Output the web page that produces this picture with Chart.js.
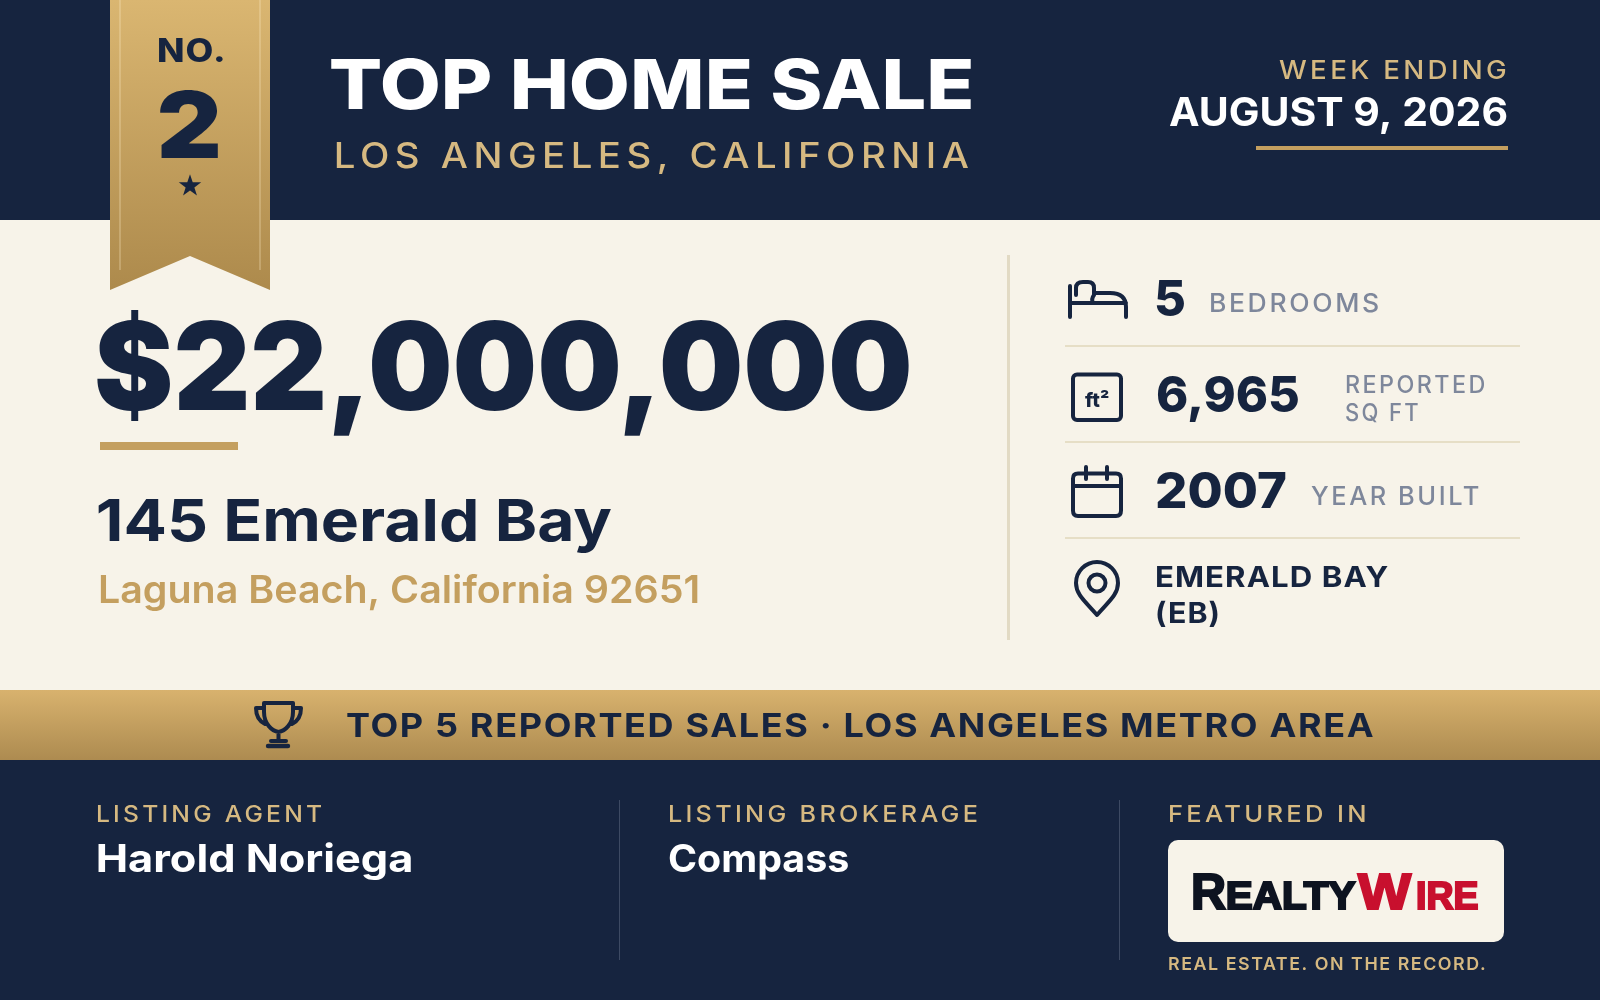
<!DOCTYPE html>
<html>
<head>
<meta charset="utf-8">
<title>Top Home Sale</title>
<script src="https://cdn.jsdelivr.net/npm/chart.js@4/dist/chart.umd.min.js"></script>
<style>
  html, body { margin: 0; padding: 0; background: #16243f; }
  canvas { display: block; }
</style>
</head>
<body>
<canvas id="card" width="1600" height="1000"></canvas>
<script>
// card content
const rankText = ['NO.', '2'];
const titleText = ['TOP HOME SALE', 'LOS ANGELES, CALIFORNIA'];
const weekText = ['WEEK ENDING', 'AUGUST 9, 2026'];
const priceText = '$22,000,000';
const addressText = ['145 Emerald Bay', 'Laguna Beach, California 92651'];
const statValues = ['5', '6,965', '2007'];
const statLabels = ['BEDROOMS', 'REPORTED', 'SQ FT', 'YEAR BUILT'];
const areaLines = ['EMERALD BAY', '(EB)'];
const bandText = 'TOP 5 REPORTED SALES \u00b7 LOS ANGELES METRO AREA';
const footerLabels = ['LISTING AGENT', 'LISTING BROKERAGE', 'FEATURED IN'];
const footerValues = ['Harold Noriega', 'Compass'];
const logoText = ['R', 'EALTY', 'W', 'IRE'];
const logoTagline = 'REAL ESTATE. ON THE RECORD.';

const NAVY = '#16243f';
const CREAM = '#f7f3e9';
const GOLD = '#c49f5f';
const PALE_GOLD = '#d6b981';
const GREY = '#7e879b';
const RULE = '#e6dec6';
const FONT = 'Inter, "Noto Sans", sans-serif';

// draws text so its ink runs exactly from left to right
function fitText(ctx, text, left, right, baseline, size, weight, color, spacing, heavy) {
  ctx.save();
  ctx.font = weight + ' ' + size + 'px ' + (heavy ? '"Liberation Sans"' : FONT);
  ctx.letterSpacing = (spacing || 0) + 'px';
  ctx.textAlign = 'left';
  ctx.textBaseline = 'alphabetic';
  ctx.fillStyle = color;
  const m = ctx.measureText(text);
  const ink = m.actualBoundingBoxLeft + m.actualBoundingBoxRight;
  const s = (right - left) / ink;
  ctx.translate(left + m.actualBoundingBoxLeft * s, baseline);
  ctx.scale(s, 1);
  ctx.fillText(text, 0, 0);
  if (heavy) {
    ctx.strokeStyle = color;
    ctx.lineWidth = heavy;
    ctx.lineJoin = 'miter';
    ctx.strokeText(text, 0, 0);
  }
  ctx.restore();
}

function strokeIcon(ctx, path, width) {
  ctx.save();
  ctx.strokeStyle = NAVY;
  ctx.lineWidth = width;
  ctx.lineCap = 'round';
  ctx.lineJoin = 'round';
  ctx.stroke(new Path2D(path));
  ctx.restore();
}

function roundBox(ctx, x, y, w, h, r) {
  ctx.beginPath();
  ctx.roundRect(x, y, w, h, r);
}

function drawPanels(ctx) {
  ctx.fillStyle = NAVY;
  ctx.fillRect(0, 0, 1600, 220);
  ctx.fillStyle = CREAM;
  ctx.fillRect(0, 220, 1600, 470);

  const band = ctx.createLinearGradient(0, 690, 0, 760);
  band.addColorStop(0, '#d8b26e');
  band.addColorStop(1, '#ad8b50');
  ctx.fillStyle = band;
  ctx.fillRect(0, 690, 1600, 70);

  ctx.fillStyle = NAVY;
  ctx.fillRect(0, 760, 1600, 240);
}

function drawRibbon(ctx) {
  const g = ctx.createLinearGradient(0, 0, 0, 290);
  g.addColorStop(0, '#dab671');
  g.addColorStop(1, '#ad8a4c');
  ctx.fillStyle = g;
  ctx.beginPath();
  ctx.moveTo(110, 0);
  ctx.lineTo(270, 0);
  ctx.lineTo(270, 290);
  ctx.lineTo(190, 256);
  ctx.lineTo(110, 290);
  ctx.closePath();
  ctx.fill();

  ctx.fillStyle = 'rgba(255,240,205,0.25)';
  ctx.fillRect(119, 0, 2, 270);
  ctx.fillRect(259, 0, 2, 270);

  fitText(ctx, rankText[0], 158, 223, 62, 32, 800, NAVY, 1);
  fitText(ctx, rankText[1], 160, 218, 158, 92, 900, NAVY);

  // star
  ctx.fillStyle = NAVY;
  ctx.beginPath();
  for (let i = 0; i < 10; i++) {
    const r = i % 2 ? 4.6 : 11.8;
    const a = -Math.PI / 2 + i * Math.PI / 5;
    ctx.lineTo(190 + r * Math.cos(a), 186 + r * Math.sin(a));
  }
  ctx.closePath();
  ctx.fill();
}

function drawHeader(ctx) {
  fitText(ctx, titleText[0], 331, 971, 109, 69, 800, '#ffffff');
  fitText(ctx, titleText[1], 336, 968, 168, 35, 500, PALE_GOLD, 5);
  fitText(ctx, weekText[0], 1279, 1506, 79, 25, 500, PALE_GOLD, 3);
  fitText(ctx, weekText[1], 1169, 1507, 126, 40, 700, '#ffffff');
  ctx.fillStyle = GOLD;
  ctx.fillRect(1256, 146, 252, 4);
}

function drawMain(ctx) {
  fitText(ctx, priceText, 97, 909, 410, 122, 900, NAVY);
  ctx.fillStyle = GOLD;
  ctx.fillRect(100, 442, 138, 8);
  fitText(ctx, addressText[0], 98, 611, 541, 58, 700, NAVY);
  fitText(ctx, addressText[1], 100, 698, 603, 38, 600, GOLD);
}

function drawStats(ctx) {
  ctx.fillStyle = '#e2dac4';
  ctx.fillRect(1007, 255, 3, 385);
  ctx.fillStyle = RULE;
  [345, 441, 537].forEach(y => ctx.fillRect(1065, y, 455, 2));

  fitText(ctx, statValues[0], 1156, 1184, 316, 49, 800, NAVY);
  fitText(ctx, statLabels[0], 1211, 1378, 312, 25, 500, GREY, 2.5);
  fitText(ctx, statValues[1], 1157, 1298, 412, 49, 800, NAVY);
  fitText(ctx, statLabels[1], 1346, 1484, 393, 24, 500, GREY, 2.5);
  fitText(ctx, statLabels[2], 1346, 1418, 421, 24, 500, GREY, 2.5);
  fitText(ctx, statValues[2], 1157, 1286, 508, 49, 800, NAVY);
  fitText(ctx, statLabels[3], 1311, 1479, 505, 25, 500, GREY, 2.5);
  fitText(ctx, areaLines[0], 1156, 1388, 587, 29, 700, NAVY, 1);
  fitText(ctx, areaLines[1], 1157, 1218, 623, 29, 700, NAVY, 1);

  // bed
  strokeIcon(ctx, 'M1070 286V317M1070 303H1126M1126 317V307Q1126 293 1110 293H1094M1076 295V288Q1076 282 1083 282H1088Q1094 282 1094 288V295Q1091 299 1093 303', 4);

  // square feet box
  ctx.save();
  ctx.strokeStyle = NAVY;
  ctx.lineWidth = 4;
  roundBox(ctx, 1073, 374.5, 48, 45.5, 4);
  ctx.stroke();
  ctx.restore();
  fitText(ctx, 'ft\u00b2', 1085, 1109, 407, 20, 800, NAVY);

  // calendar
  strokeIcon(ctx, 'M1078 473.5H1116Q1121 473.5 1121 478.5V510.5Q1121 516 1116 516H1078Q1073 516 1073 510.5V478.5Q1073 473.5 1078 473.5ZM1073 486H1121M1086 467V479M1107 467V479', 4);

  // pin
  strokeIcon(ctx, 'M1097 615C1086 602 1076 595 1076 583A21 21 0 0 1 1118 583C1118 595 1108 602 1097 615ZM1105.5 583A8.5 8.5 0 1 1 1088.5 583A8.5 8.5 0 1 1 1105.5 583Z', 4);
}

function drawBand(ctx) {
  fitText(ctx, bandText, 347, 1373, 737, 33, 700, NAVY, 1.5);
  strokeIcon(ctx, 'M264 703H293V712C293 724 285 731 278.5 732C272 731 264 724 264 712ZM264 708H256C256 716 259 721 265 724M293 708H301C301 716 298 721 292 724M278.5 732V741', 4);
  strokeIcon(ctx, 'M271 741H286', 4);
  strokeIcon(ctx, 'M268 746H288', 4.4);
}

function drawFooter(ctx) {
  ctx.fillStyle = '#3d4a63';
  ctx.fillRect(619, 800, 1, 160);
  ctx.fillRect(1119, 800, 1, 160);

  fitText(ctx, footerLabels[0], 97, 321, 822, 23, 500, PALE_GOLD, 3);
  fitText(ctx, footerLabels[1], 669, 977, 822, 23, 500, PALE_GOLD, 3);
  fitText(ctx, footerLabels[2], 1169, 1365, 822, 23, 500, PALE_GOLD, 3);
  fitText(ctx, footerValues[0], 98, 411, 872, 38, 700, '#ffffff');
  fitText(ctx, footerValues[1], 669, 848, 872, 38, 700, '#ffffff');

  ctx.fillStyle = CREAM;
  roundBox(ctx, 1168, 840, 336, 102, 10);
  ctx.fill();
  fitText(ctx, logoText[0], 1194, 1226, 909, 50, 700, '#0d1320', 0, 2.2);
  fitText(ctx, logoText[1], 1228, 1355, 909, 38, 700, '#0d1320', 0, 2.2);
  fitText(ctx, logoText[2], 1358, 1412, 909, 50, 700, '#c8102e', 0, 2.2);
  fitText(ctx, logoText[3], 1418, 1477, 909, 38, 700, '#c8102e', 0, 2.2);

  fitText(ctx, logoTagline, 1169, 1485, 970, 17.5, 600, PALE_GOLD, 1.5);
}

const cardPlugin = {
  id: 'card',
  beforeDraw(chart) {
    const ctx = chart.ctx;
    drawPanels(ctx);
    drawRibbon(ctx);
    drawHeader(ctx);
    drawMain(ctx);
    drawStats(ctx);
    drawBand(ctx);
    drawFooter(ctx);
  }
};

new Chart(document.getElementById('card'), {
  type: 'scatter',
  data: { datasets: [] },
  options: {
    responsive: false,
    animation: false,
    devicePixelRatio: 1,
    layout: { padding: 0 },
    plugins: { legend: { display: false }, tooltip: { enabled: false } },
    scales: { x: { display: false }, y: { display: false } }
  },
  plugins: [cardPlugin]
});
</script>
</body>
</html>
